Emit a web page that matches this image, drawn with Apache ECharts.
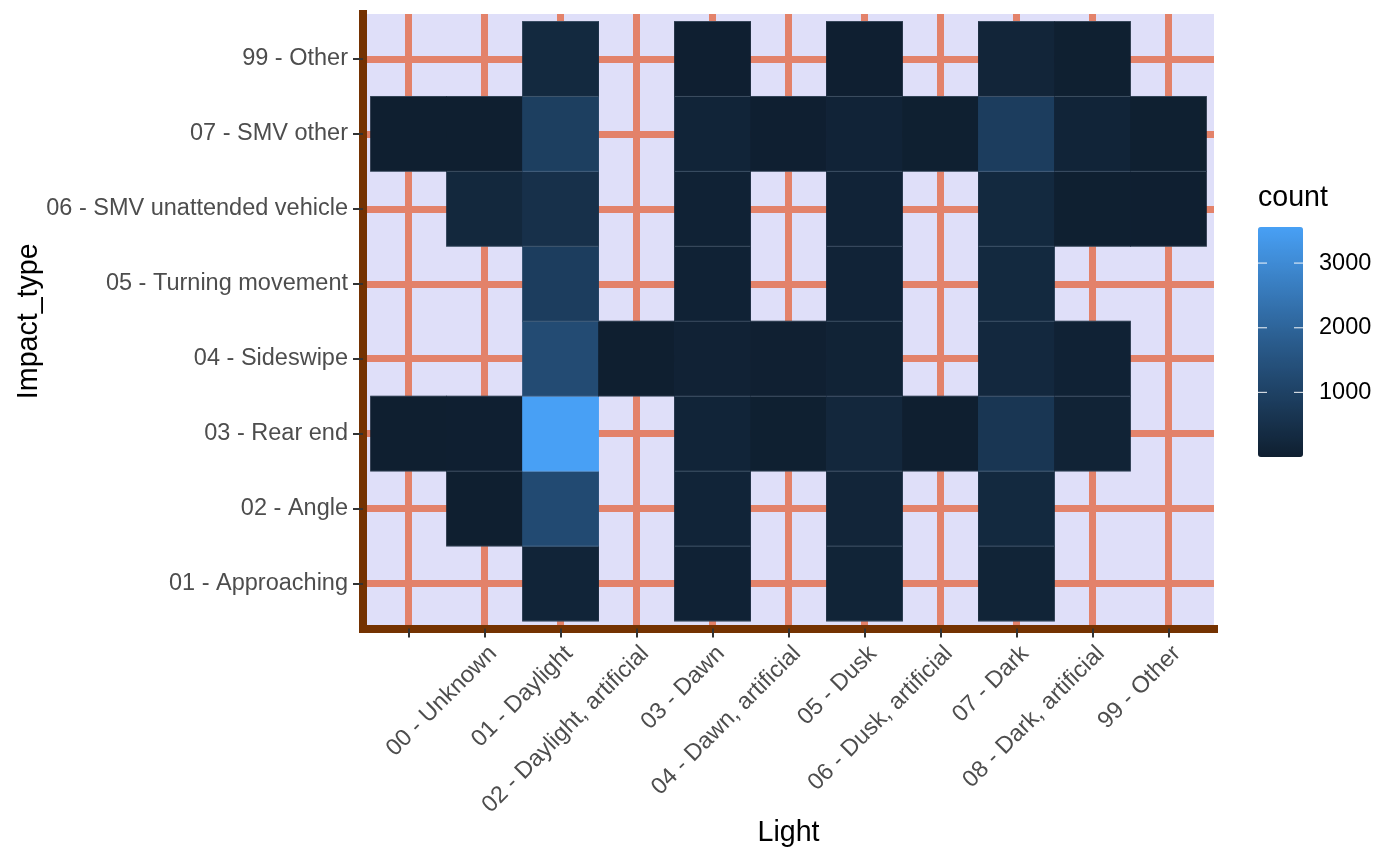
<!DOCTYPE html>
<html>
<head>
<meta charset="utf-8">
<script src="https://cdn.jsdelivr.net/npm/echarts@6/dist/echarts.min.js"></script>
<style>
html,body{margin:0;padding:0;background:#fff;}
#chart{width:1400px;height:865px;}
</style>
</head>
<body>
<div id="chart"></div>
<script>
// ---- Data ----
const lightCats = ["", "00 - Unknown", "01 - Daylight", "02 - Daylight, artificial", "03 - Dawn",
  "04 - Dawn, artificial", "05 - Dusk", "06 - Dusk, artificial", "07 - Dark", "08 - Dark, artificial", "99 - Other"];
const impactCats = ["01 - Approaching", "02 - Angle", "03 - Rear end", "04 - Sideswipe",
  "05 - Turning movement", "06 - SMV unattended vehicle", "07 - SMV other", "99 - Other"];

// counts per Impact_type row, one value per Light category (null = no tile)
const approaching   = [null, null, 160, null, 90, null, 140, null, 140, null, null];
const angle         = [null, 10, 1260, null, 150, null, 170, null, 290, null, null];
const rearEnd       = [10, 15, 3558, null, 150, 20, 235, 10, 670, 120, null];
const sideswipe     = [null, null, 1290, 10, 100, 40, 110, null, 270, 90, null];
const turning       = [null, null, 880, null, 90, null, 130, null, 290, null, null];
const smvUnattended = [null, 250, 505, null, 90, null, 130, null, 290, 20, 15];
const smvOther      = [1, 10, 920, null, 150, 15, 130, 20, 880, 150, 20];
const other99       = [null, null, 290, null, 15, null, 15, null, 170, 20, null];

const rows = [approaching, angle, rearEnd, sideswipe, turning, smvUnattended, smvOther, other99];
const legendTicks = [1000, 2000, 3000];
const countMin = 1, countMax = 3558;

// ---- Build ----
const tileData = [];
rows.forEach((row, yi) => row.forEach((v, xi) => { if (v !== null) tileData.push([xi, yi, v]); }));
const xIdx = lightCats.map((_, i) => i);
const yIdx = impactCats.map((_, i) => i);

const FONT = "'Liberation Sans', Arial, Helvetica, sans-serif";
const AXIS_COL = '#743201';
const GRID_COL = '#E3826A';

const vm = {left: 1258, top: 227, w: 45, h: 230};

const chart = echarts.init(document.getElementById('chart'));

const legendGraphics = [];
legendTicks.forEach(t => {
  const y = vm.top + vm.h * (countMax - t) / (countMax - countMin);
  legendGraphics.push({type: 'line', z: 100, shape: {x1: vm.left, y1: y, x2: vm.left + 9, y2: y}, style: {stroke: '#ffffff', lineWidth: 1.2, opacity: 0.8}});
  legendGraphics.push({type: 'line', z: 100, shape: {x1: vm.left + vm.w - 9, y1: y, x2: vm.left + vm.w, y2: y}, style: {stroke: '#ffffff', lineWidth: 1.2, opacity: 0.8}});
  legendGraphics.push({type: 'text', z: 100, x: 1319, y: y, style: {text: String(t), fill: '#000', font: '23.5px ' + FONT, verticalAlign: 'middle', align: 'left'}});
});
legendGraphics.push({type: 'text', z: 100, x: 1258, y: 198, style: {text: 'count', fill: '#000', font: '28.6px ' + FONT, verticalAlign: 'middle', align: 'left'}});

chart.setOption({
  animation: false,
  backgroundColor: '#ffffff',
  grid: {left: 363, right: 186, top: 14, bottom: 236.5, containLabel: false, outerBoundsMode: 'none',
         show: true, backgroundColor: '#DFDFF9', borderWidth: 0},
  xAxis: {
    type: 'value', min: -0.6, max: lightCats.length - 1 + 0.6,
    name: 'Light', nameLocation: 'middle', nameGap: 190, nameMoveOverlap: false,
    nameTextStyle: {color: '#000', fontSize: 28.6, fontFamily: FONT},
    axisLine: {show: true, onZero: false, lineStyle: {color: AXIS_COL, width: 8, cap: 'square'}},
    axisTick: {show: true, customValues: xIdx, length: 9, lineStyle: {color: '#333333', width: 2}},
    axisLabel: {show: true, customValues: xIdx, formatter: v => lightCats[Math.round(v)],
      rotate: 45, align: 'right', verticalAlign: 'top', margin: 13,
      color: '#4D4D4D', fontSize: 23.5, fontFamily: FONT},
    splitLine: {show: true, lineStyle: {color: GRID_COL, width: 7}}
  },
  yAxis: {
    type: 'value', min: -0.6, max: impactCats.length - 1 + 0.6,
    name: 'Impact_type', nameLocation: 'middle', nameGap: 319, nameMoveOverlap: false,
    nameTextStyle: {color: '#000', fontSize: 28.6, fontFamily: FONT},
    axisLine: {show: true, onZero: false, lineStyle: {color: AXIS_COL, width: 8, cap: 'square'}},
    axisTick: {show: true, customValues: yIdx, length: 10, lineStyle: {color: '#333333', width: 2}},
    axisLabel: {show: true, customValues: yIdx, formatter: v => impactCats[Math.round(v)],
      margin: 15, padding: [2, 0, 0, 0], color: '#4D4D4D', fontSize: 23.5, fontFamily: FONT},
    splitLine: {show: true, lineStyle: {color: GRID_COL, width: 7}}
  },
  visualMap: {
    type: 'continuous', min: countMin, max: countMax, dimension: 2, seriesIndex: 0,
    calculable: false, orient: 'vertical', left: vm.left, top: vm.top,
    itemWidth: vm.w, itemHeight: vm.h, padding: 0, text: null, showLabel: false,
    inRange: {color: ['#0F1F30', '#2A5C8D', '#48A0F5']}
  },
  graphic: legendGraphics,
  series: [{
    type: 'custom',
    data: tileData,
    encode: {x: 0, y: 1},
    renderItem: function (params, api) {
      const x = api.value(0), y = api.value(1);
      const p0 = api.coord([x - 0.5, y + 0.5]);
      const p1 = api.coord([x + 0.5, y - 0.5]);
      const color = api.visual('color');
      const edge = {stroke: 'rgba(150,165,190,0.3)', lineWidth: 1};
      return {type: 'group', children: [
        {type: 'rect', shape: {x: p0[0] - 0.4, y: p0[1] - 0.4, width: p1[0] - p0[0] + 0.8, height: p1[1] - p0[1] + 0.8}, style: {fill: color}},
        {type: 'line', shape: {x1: p0[0], y1: p0[1], x2: p1[0], y2: p0[1]}, style: edge},
        {type: 'line', shape: {x1: p0[0], y1: p1[1], x2: p1[0], y2: p1[1]}, style: edge}
      ]};
    }
  }]
});
</script>
</body>
</html>
